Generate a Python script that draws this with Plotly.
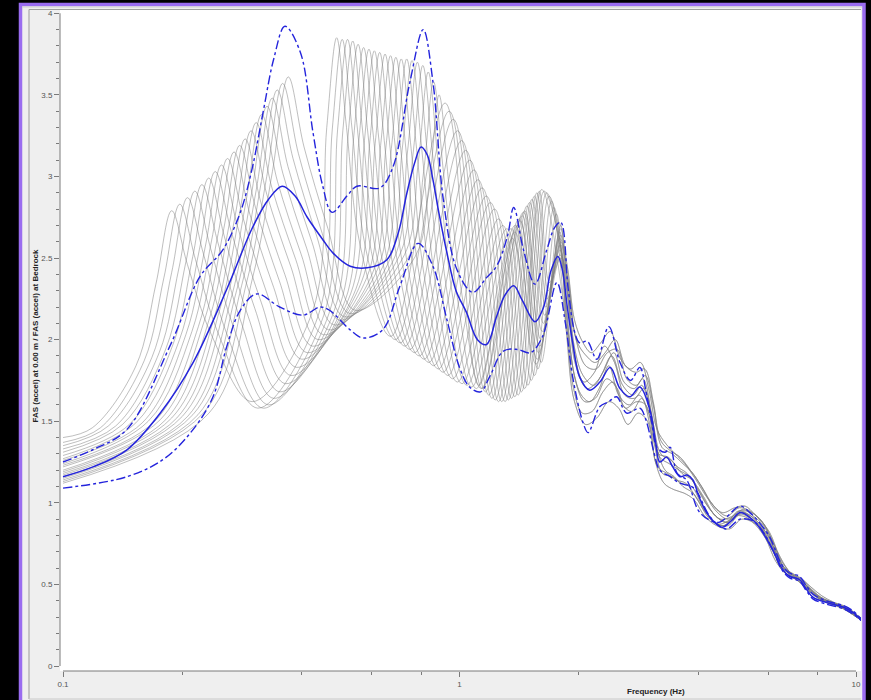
import plotly.graph_objects as go

# ---------------- Data ----------------
# Low-frequency part of each gray realization (frequency Hz, ratio)
r00_f = [0.1, 0.1186, 0.1528, 0.1715, 0.188, 0.2060, 0.2367, 0.300, 0.4268, 0.4626, 0.490, 0.5189, 0.5625, 0.671, 0.920, 1.119, 1.360, 1.560, 1.79]
r00_v = [1.40, 1.46, 1.84, 2.34, 2.79, 2.46, 2.03, 1.62, 2.18, 3.30, 3.85, 3.30, 2.57, 2.02, 3.45, 1.72, 2.62, 1.85, 2.62]
r01_f = [0.1, 0.1243, 0.1602, 0.1797, 0.197, 0.2159, 0.2480, 0.310, 0.4407, 0.4777, 0.506, 0.5359, 0.5809, 0.690, 0.942, 1.140, 1.379, 1.571, 1.79]
r01_v = [1.37, 1.46, 1.87, 2.38, 2.83, 2.49, 2.02, 1.58, 2.15, 3.29, 3.84, 3.29, 2.55, 2.00, 3.40, 1.70, 2.66, 1.88, 2.66]
r02_f = [0.1, 0.1300, 0.1675, 0.1879, 0.206, 0.2258, 0.2594, 0.320, 0.4547, 0.4928, 0.522, 0.5528, 0.5993, 0.710, 0.965, 1.162, 1.399, 1.582, 1.80]
r02_v = [1.35, 1.47, 1.89, 2.41, 2.87, 2.53, 2.03, 1.58, 2.15, 3.29, 3.84, 3.29, 2.54, 1.98, 3.35, 1.68, 2.70, 1.92, 2.70]
r03_f = [0.1, 0.1357, 0.1748, 0.1961, 0.215, 0.2356, 0.2707, 0.330, 0.4686, 0.5079, 0.538, 0.5697, 0.6176, 0.729, 0.989, 1.185, 1.419, 1.594, 1.79]
r03_v = [1.33, 1.47, 1.92, 2.44, 2.91, 2.56, 2.06, 1.60, 2.16, 3.28, 3.83, 3.28, 2.52, 1.96, 3.28, 1.66, 2.73, 1.96, 2.58]
r04_f = [0.1, 0.1413, 0.1821, 0.2043, 0.224, 0.2455, 0.2820, 0.340, 0.4834, 0.5239, 0.555, 0.5877, 0.6371, 0.750, 1.013, 1.207, 1.439, 1.605, 1.80]
r04_v = [1.31, 1.48, 1.95, 2.48, 2.95, 2.60, 2.10, 1.64, 2.18, 3.26, 3.81, 3.26, 2.50, 1.94, 3.22, 1.64, 2.76, 2.00, 2.68]
r05_f = [0.1, 0.1470, 0.1894, 0.2125, 0.233, 0.2554, 0.2933, 0.352, 0.4991, 0.5409, 0.573, 0.6068, 0.6578, 0.771, 1.037, 1.230, 1.460, 1.617, 1.79]
r05_v = [1.29, 1.48, 1.97, 2.51, 2.99, 2.63, 2.14, 1.68, 2.21, 3.24, 3.79, 3.24, 2.48, 1.92, 3.16, 1.63, 2.79, 2.05, 2.55]
r06_f = [0.1, 0.1527, 0.1967, 0.2207, 0.242, 0.2652, 0.3047, 0.364, 0.5148, 0.5579, 0.591, 0.6259, 0.6785, 0.792, 1.062, 1.254, 1.480, 1.628, 1.80]
r06_v = [1.27, 1.49, 2.00, 2.55, 3.03, 2.67, 2.19, 1.73, 2.24, 3.23, 3.78, 3.23, 2.46, 1.90, 3.10, 1.62, 2.82, 2.10, 2.64]
r07_f = [0.1, 0.1584, 0.2041, 0.2289, 0.251, 0.2751, 0.3160, 0.376, 0.5313, 0.5758, 0.610, 0.6460, 0.7003, 0.815, 1.088, 1.278, 1.502, 1.640, 1.79]
r07_v = [1.26, 1.49, 2.03, 2.58, 3.07, 2.70, 2.23, 1.78, 2.28, 3.22, 3.77, 3.22, 2.45, 1.88, 3.04, 1.62, 2.84, 2.15, 2.50]
r08_f = [0.1, 0.1641, 0.2114, 0.2371, 0.260, 0.2850, 0.3273, 0.388, 0.5479, 0.5938, 0.629, 0.6661, 0.7221, 0.837, 1.114, 1.303, 1.523, 1.651, 1.80]
r08_v = [1.24, 1.50, 2.05, 2.61, 3.11, 2.74, 2.28, 1.83, 2.31, 3.21, 3.76, 3.21, 2.43, 1.86, 2.98, 1.62, 2.86, 2.20, 2.60]
r09_f = [0.1, 0.1704, 0.2195, 0.2462, 0.270, 0.2959, 0.3399, 0.400, 0.5653, 0.6127, 0.649, 0.6873, 0.7451, 0.861, 1.141, 1.328, 1.545, 1.663, 1.79]
r09_v = [1.23, 1.50, 2.08, 2.65, 3.15, 2.77, 2.32, 1.88, 2.35, 3.20, 3.75, 3.20, 2.41, 1.84, 2.93, 1.63, 2.88, 2.25, 2.52]
r10_f = [0.1, 0.1760, 0.2268, 0.2544, 0.279, 0.3058, 0.3513, 0.413, 0.5836, 0.6325, 0.670, 0.7095, 0.7692, 0.885, 1.169, 1.353, 1.567, 1.675, 1.80]
r10_v = [1.22, 1.51, 2.11, 2.68, 3.19, 2.81, 2.36, 1.92, 2.38, 3.19, 3.74, 3.19, 2.40, 1.82, 2.88, 1.64, 2.90, 2.30, 2.58]
r11_f = [0.1, 0.1817, 0.2341, 0.2627, 0.288, 0.3156, 0.3626, 0.426, 0.6019, 0.6523, 0.691, 0.7318, 0.7933, 0.909, 1.197, 1.379, 1.589, 1.686, 1.80]
r11_v = [1.20, 1.51, 2.13, 2.71, 3.23, 2.84, 2.40, 1.96, 2.40, 3.18, 3.73, 3.18, 2.38, 1.80, 2.84, 1.65, 2.91, 2.35, 2.50]
r12_f = [0.1, 0.1880, 0.2423, 0.2718, 0.298, 0.3266, 0.3752, 0.440, 0.6210, 0.6731, 0.713, 0.7551, 0.8185, 0.935, 1.226, 1.406, 1.612]
r12_v = [1.19, 1.52, 2.16, 2.76, 3.28, 2.89, 2.45, 2.00, 2.43, 3.17, 3.72, 3.17, 2.36, 1.78, 2.80, 1.66, 2.92]
r13_f = [0.1, 0.1937, 0.2496, 0.2800, 0.307, 0.3365, 0.3865, 0.454, 0.6411, 0.6948, 0.736, 0.7794, 0.8449, 0.961, 1.256, 1.433, 1.635]
r13_v = [1.18, 1.52, 2.20, 2.80, 3.33, 2.93, 2.49, 2.03, 2.45, 3.17, 3.72, 3.17, 2.35, 1.76, 2.74, 1.68, 2.91]
r14_f = [0.1, 0.2000, 0.2577, 0.2891, 0.317, 0.3474, 0.3991, 0.468, 0.6611, 0.7165, 0.759, 0.8038, 0.8713, 0.988, 1.286, 1.460, 1.658]
r14_v = [1.17, 1.53, 2.23, 2.84, 3.38, 2.97, 2.52, 2.06, 2.47, 3.16, 3.71, 3.16, 2.33, 1.74, 2.70, 1.70, 2.90]
r15_f = [0.1, 0.2063, 0.2659, 0.2982, 0.327, 0.3584, 0.4117, 0.483, 0.6820, 0.7392, 0.783, 0.8292, 0.8989, 1.015, 1.317, 1.488, 1.682]
r15_v = [1.16, 1.53, 2.26, 2.88, 3.43, 3.02, 2.56, 2.09, 2.49, 3.15, 3.70, 3.15, 2.32, 1.73, 2.68, 1.72, 2.88]
r16_f = [0.1, 0.2126, 0.2740, 0.3073, 0.337, 0.3694, 0.4243, 0.498, 0.7038, 0.7628, 0.808, 0.8557, 0.9276, 1.044, 1.349, 1.517, 1.706]
r16_v = [1.15, 1.54, 2.30, 2.92, 3.48, 3.06, 2.60, 2.12, 2.51, 3.13, 3.68, 3.13, 2.31, 1.72, 2.68, 1.75, 2.85]
r17_f = [0.1, 0.2190, 0.2821, 0.3165, 0.347, 0.3803, 0.4369, 0.513, 0.7264, 0.7873, 0.834, 0.8832, 0.9574, 1.074, 1.382, 1.546, 1.730]
r17_v = [1.14, 1.54, 2.33, 2.97, 3.53, 3.11, 2.63, 2.14, 2.52, 3.09, 3.64, 3.09, 2.29, 1.71, 2.70, 1.78, 2.81]
r18_f = [0.1, 0.2259, 0.2911, 0.3265, 0.358, 0.3924, 0.4507, 0.529, 0.7491, 0.8118, 0.860, 0.9107, 0.9873, 1.103, 1.415, 1.576, 1.755]
r18_v = [1.13, 1.55, 2.36, 3.00, 3.57, 3.14, 2.65, 2.16, 2.52, 3.03, 3.58, 3.03, 2.26, 1.70, 2.74, 1.82, 2.77]
r19_f = [0.1, 0.2335, 0.3008, 0.3374, 0.370, 0.4055, 0.4658, 0.545, 0.7734, 0.8383, 0.888, 0.9404, 1.0194, 1.135, 1.450, 1.607, 1.780]
r19_v = [1.12, 1.55, 2.38, 3.03, 3.61, 3.18, 2.68, 2.18, 2.51, 2.95, 3.50, 2.95, 2.24, 1.70, 2.78, 1.86, 2.72]

# High-frequency parts of the gray realizations (ten observed variants)
tail_a_f = [1.87, 1.95, 2.05, 2.15, 2.27, 2.40, 2.55, 2.70, 2.86, 3.00, 3.15, 3.32, 3.50, 3.70, 3.95, 4.25, 4.60, 4.95, 5.25, 5.55, 5.85, 6.20, 6.60, 7.00, 7.40, 7.90, 8.50, 9.10, 9.70, 10.3]
tail_a_v = [2.45, 2.12, 1.98, 1.92, 1.98, 2.05, 1.88, 1.82, 1.86, 1.70, 1.45, 1.36, 1.30, 1.24, 1.14, 1.02, 0.94, 0.97, 0.98, 0.93, 0.87, 0.75, 0.60, 0.56, 0.51, 0.44, 0.40, 0.37, 0.34, 0.29]
tail_b_f = [1.87, 1.95, 2.05, 2.18, 2.30, 2.45, 2.60, 2.76, 2.90, 3.05, 3.20, 3.38, 3.58, 3.80, 4.05, 4.35, 4.70, 5.05, 5.35, 5.65, 6.00, 6.35, 6.80, 7.20, 7.60, 8.10, 8.70, 9.40, 10.3]
tail_b_v = [2.35, 1.95, 1.78, 1.72, 1.80, 1.92, 1.74, 1.70, 1.76, 1.55, 1.28, 1.24, 1.20, 1.16, 1.06, 0.94, 0.88, 0.95, 0.93, 0.88, 0.80, 0.67, 0.56, 0.53, 0.48, 0.42, 0.39, 0.36, 0.29]
tail_c_f = [1.86, 1.96, 2.07, 2.20, 2.35, 2.50, 2.62, 2.80, 2.95, 3.10, 3.25, 3.45, 3.62, 3.85, 4.10, 4.40, 4.75, 5.10, 5.45, 5.75, 6.10, 6.50, 6.90, 7.30, 7.70, 8.30, 8.90, 9.60, 10.3]
tail_c_v = [2.20, 1.75, 1.62, 1.64, 1.76, 1.70, 1.58, 1.62, 1.60, 1.36, 1.18, 1.16, 1.12, 1.10, 0.98, 0.88, 0.86, 0.93, 0.90, 0.85, 0.75, 0.61, 0.55, 0.52, 0.46, 0.40, 0.38, 0.34, 0.28]
tail_d_f = [1.86, 1.95, 2.08, 2.22, 2.38, 2.52, 2.66, 2.82, 2.98, 3.12, 3.28, 3.48, 3.68, 3.90, 4.15, 4.45, 4.80, 5.15, 5.50, 5.80, 6.15, 6.55, 6.95, 7.35, 7.80, 8.40, 9.00, 9.70, 10.3]
tail_d_v = [2.05, 1.62, 1.48, 1.52, 1.62, 1.58, 1.48, 1.55, 1.50, 1.25, 1.12, 1.08, 1.06, 1.02, 0.92, 0.86, 0.84, 0.90, 0.88, 0.83, 0.71, 0.58, 0.54, 0.50, 0.44, 0.39, 0.37, 0.33, 0.28]
tail_e_f = [1.87, 1.96, 2.10, 2.25, 2.42, 2.58, 2.74, 2.88, 3.02, 3.18, 3.36, 3.55, 3.75, 3.95, 4.25, 4.55, 4.90, 5.20, 5.50, 5.85, 6.20, 6.60, 7.00, 7.40, 7.90, 8.50, 9.20, 9.80, 10.3]
tail_e_v = [2.30, 1.85, 1.70, 1.76, 1.90, 1.72, 1.66, 1.72, 1.58, 1.30, 1.28, 1.22, 1.18, 1.10, 0.97, 0.90, 0.92, 0.96, 0.92, 0.86, 0.73, 0.59, 0.55, 0.50, 0.43, 0.39, 0.36, 0.32, 0.29]
tail_g_f = [1.87, 1.97, 2.09, 2.20, 2.33, 2.47, 2.62, 2.78, 2.93, 3.08, 3.22, 3.40, 3.60, 3.82, 4.08, 4.38, 4.72, 5.08, 5.40, 5.70, 6.05, 6.40, 6.85, 7.25, 7.65, 8.20, 8.80, 9.50, 10.3]
tail_g_v = [2.40, 2.00, 1.90, 1.86, 1.92, 2.00, 1.84, 1.80, 1.82, 1.62, 1.38, 1.32, 1.28, 1.20, 1.10, 0.98, 0.92, 0.97, 0.95, 0.90, 0.82, 0.68, 0.57, 0.54, 0.49, 0.43, 0.39, 0.36, 0.29]
tail_h_f = [1.86, 1.94, 2.04, 2.16, 2.30, 2.44, 2.58, 2.72, 2.88, 3.02, 3.16, 3.34, 3.52, 3.72, 3.98, 4.28, 4.62, 4.98, 5.30, 5.60, 5.92, 6.28, 6.70, 7.10, 7.50, 8.00, 8.60, 9.30, 10.3]
tail_h_v = [2.10, 1.70, 1.55, 1.56, 1.68, 1.74, 1.60, 1.56, 1.64, 1.48, 1.22, 1.18, 1.14, 1.12, 1.02, 0.90, 0.86, 0.92, 0.91, 0.86, 0.78, 0.64, 0.56, 0.53, 0.47, 0.42, 0.38, 0.35, 0.28]
tail_i_f = [1.87, 1.96, 2.06, 2.19, 2.32, 2.46, 2.61, 2.76, 2.92, 3.06, 3.22, 3.42, 3.64, 3.86, 4.12, 4.42, 4.78, 5.12, 5.42, 5.72, 6.08, 6.45, 6.88, 7.28, 7.68, 8.25, 8.85, 9.55, 10.3]
tail_i_v = [2.28, 1.88, 1.74, 1.80, 1.96, 1.86, 1.66, 1.64, 1.70, 1.52, 1.30, 1.26, 1.18, 1.14, 1.04, 0.92, 0.88, 0.94, 0.92, 0.87, 0.77, 0.63, 0.56, 0.52, 0.47, 0.41, 0.38, 0.35, 0.28]
tail_j_f = [1.86, 1.95, 2.03, 2.13, 2.25, 2.38, 2.52, 2.68, 2.84, 2.99, 3.14, 3.30, 3.48, 3.66, 3.88, 4.18, 4.50, 4.85, 5.18, 5.48, 5.80, 6.15, 6.55, 6.95, 7.35, 7.85, 8.45, 9.15, 10.3]
tail_j_v = [2.15, 1.78, 1.66, 1.62, 1.70, 1.84, 1.66, 1.60, 1.66, 1.56, 1.34, 1.20, 1.16, 1.10, 1.06, 0.94, 0.87, 0.90, 0.94, 0.90, 0.84, 0.72, 0.58, 0.54, 0.50, 0.43, 0.39, 0.36, 0.28]
tail_k_f = [1.87, 1.96, 2.08, 2.21, 2.36, 2.50, 2.64, 2.79, 2.94, 3.08, 3.24, 3.44, 3.66, 3.88, 4.12, 4.40, 4.75, 5.10, 5.45, 5.78, 6.12, 6.50, 6.92, 7.32, 7.72, 8.30, 8.95, 9.65, 10.3]
tail_k_v = [2.38, 2.02, 1.84, 1.82, 1.92, 1.94, 1.76, 1.72, 1.78, 1.60, 1.34, 1.30, 1.24, 1.18, 1.08, 0.96, 0.90, 0.95, 0.94, 0.89, 0.78, 0.64, 0.56, 0.53, 0.47, 0.41, 0.38, 0.34, 0.29]

# Median (solid blue)
median_f = [0.1, 0.119, 0.145, 0.176, 0.213, 0.259, 0.301, 0.33, 0.357, 0.385, 0.413, 0.45, 0.48, 0.53, 0.585,
            0.656, 0.70, 0.737, 0.77, 0.80, 0.83, 0.857, 0.89, 0.93, 0.98, 1.04, 1.11, 1.17, 1.24, 1.30,
            1.37, 1.44, 1.55, 1.63, 1.70, 1.77, 1.82, 1.87, 1.93, 2.01, 2.13, 2.26, 2.40, 2.54, 2.69,
            2.85, 3.02, 3.12, 3.20, 3.33, 3.45, 3.60, 3.75, 3.88, 4.00, 4.20, 4.40, 4.60, 4.85, 5.10,
            5.40, 5.70, 6.17, 6.50, 6.80, 7.20, 7.50, 7.80, 8.40, 9.30, 9.80, 10.3]
median_v = [1.16, 1.22, 1.325, 1.55, 1.86, 2.31, 2.69, 2.86, 2.94, 2.88, 2.75, 2.62, 2.53, 2.45, 2.44,
            2.49, 2.65, 2.90, 3.08, 3.18, 3.13, 2.98, 2.76, 2.53, 2.30, 2.17, 2.00, 1.97, 2.14, 2.27,
            2.33, 2.24, 2.11, 2.20, 2.42, 2.51, 2.42, 2.20, 1.98, 1.77, 1.69, 1.74, 1.83, 1.70, 1.65,
            1.71, 1.57, 1.38, 1.25, 1.28, 1.22, 1.16, 1.17, 1.14, 1.05, 0.94, 0.88, 0.85, 0.89, 0.94,
            0.91, 0.85, 0.71, 0.60, 0.55, 0.53, 0.47, 0.42, 0.39, 0.36, 0.33, 0.28]

# Median + 1 sigma (dash-dot blue)
upper_f = [0.1, 0.12, 0.145, 0.186, 0.222, 0.253, 0.28, 0.30, 0.32, 0.34, 0.363, 0.397, 0.427, 0.452, 0.477,
           0.52, 0.551, 0.63, 0.68, 0.75, 0.81, 0.857, 0.91, 0.985, 1.08, 1.17, 1.24, 1.32, 1.37, 1.45,
           1.55, 1.66, 1.74, 1.80, 1.88, 1.95, 2.01, 2.10, 2.22, 2.38, 2.54, 2.70, 2.85, 2.95, 3.05,
           3.15, 3.30, 3.40, 3.54, 3.74, 4.04, 4.50, 5.10, 5.40, 5.70, 6.06, 6.50, 6.80, 7.20, 7.50,
           7.80, 8.40, 9.30, 9.80, 10.3]
upper_v = [1.25, 1.33, 1.45, 1.96, 2.39, 2.55, 2.78, 3.05, 3.40, 3.72, 3.92, 3.76, 3.27, 2.94, 2.78,
           2.88, 2.94, 2.93, 3.06, 3.58, 3.90, 3.58, 2.86, 2.43, 2.29, 2.38, 2.45, 2.63, 2.81, 2.55,
           2.34, 2.55, 2.69, 2.72, 2.31, 2.05, 1.98, 1.99, 1.88, 2.08, 1.86, 1.75, 1.83, 1.69, 1.50,
           1.34, 1.31, 1.34, 1.18, 1.14, 0.94, 0.88, 0.98, 0.94, 0.88, 0.79, 0.62, 0.57, 0.55, 0.49,
           0.44, 0.40, 0.37, 0.34, 0.29]

# Median - 1 sigma (dash-dot blue)
lower_f = [0.1, 0.145, 0.18, 0.213, 0.239, 0.259, 0.28, 0.308, 0.352, 0.403, 0.445, 0.47, 0.53, 0.571, 0.64,
           0.708, 0.786, 0.857, 0.93, 1.0, 1.06, 1.13, 1.19, 1.29, 1.40, 1.51, 1.62, 1.76, 1.85, 1.93,
           2.05, 2.11, 2.26, 2.38, 2.49, 2.64, 2.85, 2.95, 3.10, 3.20, 3.40, 3.60, 3.90, 4.30, 4.70,
           5.10, 5.50, 5.80, 6.20, 6.50, 6.80, 7.20, 7.50, 7.80, 8.40, 9.30, 9.80, 10.3]
lower_v = [1.09, 1.16, 1.27, 1.45, 1.65, 1.96, 2.18, 2.28, 2.20, 2.15, 2.20, 2.18, 2.06, 2.01, 2.06,
           2.33, 2.59, 2.45, 2.12, 1.83, 1.71, 1.68, 1.77, 1.93, 1.94, 1.92, 2.02, 2.35, 2.10, 1.77,
           1.49, 1.43, 1.59, 1.62, 1.65, 1.55, 1.58, 1.51, 1.30, 1.20, 1.16, 1.12, 1.09, 0.91, 0.84,
           0.90, 0.89, 0.83, 0.70, 0.59, 0.54, 0.52, 0.46, 0.41, 0.38, 0.35, 0.32, 0.28]

x_tick_vals = [0.1, 1, 10]
x_tick_text = ["0.1", "1", "10"]
x_minor_vals = [0.2, 0.4, 0.6, 0.8, 2, 4, 6, 8]
y_tick_vals = [0, 0.5, 1, 1.5, 2, 2.5, 3, 3.5, 4]
y_tick_text = ["0", "0.5", "1", "1.5", "2", "2.5", "3", "3.5", "4"]
x_title = "Frequency (Hz)"
y_title = "FAS (accel) at 0.00 m / FAS (accel) at Bedrock"

# ---------------- Assemble realizations ----------------
tails = [(tail_a_f, tail_a_v), (tail_h_f, tail_h_v), (tail_c_f, tail_c_v), (tail_k_f, tail_k_v),
         (tail_e_f, tail_e_v), (tail_j_f, tail_j_v), (tail_b_f, tail_b_v), (tail_d_f, tail_d_v),
         (tail_g_f, tail_g_v), (tail_i_f, tail_i_v)]
lows = [(r00_f, r00_v), (r01_f, r01_v), (r02_f, r02_v), (r03_f, r03_v), (r04_f, r04_v),
        (r05_f, r05_v), (r06_f, r06_v), (r07_f, r07_v), (r08_f, r08_v), (r09_f, r09_v),
        (r10_f, r10_v), (r11_f, r11_v), (r12_f, r12_v), (r13_f, r13_v), (r14_f, r14_v),
        (r15_f, r15_v), (r16_f, r16_v), (r17_f, r17_v), (r18_f, r18_v), (r19_f, r19_v)]
tail_order = [0, 5, 2, 7, 4, 9, 6, 1, 8, 3, 3, 8, 1, 6, 9, 4, 7, 2, 5, 0]

fig = go.Figure()
for i, (lf, lv) in enumerate(lows):
    tf, tv = tails[tail_order[i]]
    fig.add_trace(go.Scatter(
        x=lf + tf, y=lv + tv, mode="lines",
        line=dict(color="rgba(125,125,125,0.5)", width=1, shape="spline", smoothing=1.0),
        hoverinfo="skip", showlegend=False))

blue = "#2424dc"
fig.add_trace(go.Scatter(x=median_f, y=median_v, mode="lines",
                         line=dict(color=blue, width=1.5, shape="spline", smoothing=1.0),
                         showlegend=False))
fig.add_trace(go.Scatter(x=upper_f, y=upper_v, mode="lines",
                         line=dict(color=blue, width=1.4, dash="dashdot", shape="spline", smoothing=1.0),
                         showlegend=False))
fig.add_trace(go.Scatter(x=lower_f, y=lower_v, mode="lines",
                         line=dict(color=blue, width=1.4, dash="dashdot", shape="spline", smoothing=1.0),
                         showlegend=False))

# ---------------- Layout ----------------
W, H = 871, 700
L, R, T, B = 60, 10, 10, 29
pw, ph = W - L - R, H - T - B


def px(xp):
    return (xp - L) / pw


def py(yp):
    return (H - B - yp) / ph


tick_font = dict(family="Liberation Sans, Arial, sans-serif", size=8, color="#555555")

shapes = [
    # light-gray panel with purple frame
    dict(type="rect", xref="paper", yref="paper", x0=px(20.5), x1=px(864), y0=py(705), y1=py(4.5),
         fillcolor="#efefef", line=dict(color="#9a6cf0", width=3.5), layer="below"),
    # white plotting area
    dict(type="rect", xref="paper", yref="paper", x0=0, x1=1, y0=0, y1=1,
         fillcolor="white", line=dict(width=0), layer="below"),
    # inner gray frame lines
    dict(type="line", xref="paper", yref="paper", x0=px(29), x1=px(29), y0=py(699), y1=py(9.5),
         line=dict(color="#a8a8a8", width=1.2), layer="below"),
    dict(type="line", xref="paper", yref="paper", x0=px(29), x1=px(861), y0=py(9.5), y1=py(9.5),
         line=dict(color="#a0a0a0", width=1.2), layer="below"),
    dict(type="line", xref="paper", yref="paper", x0=px(22), x1=px(862), y0=py(7), y1=py(7),
         line=dict(color="#cfcfcf", width=1), layer="below"),
    dict(type="line", xref="paper", yref="paper", x0=px(29), x1=px(861), y0=py(699), y1=py(699),
         line=dict(color="#c8c8c8", width=1), layer="below"),
    # axis lines (limited to the data range)
    dict(type="line", xref="paper", yref="y", x0=0, x1=0, y0=0, y1=4,
         line=dict(color="#7a7a7a", width=1)),
    dict(type="line", xref="paper", yref="paper", x0=px(63), x1=px(856), y0=0, y1=0,
         line=dict(color="#7a7a7a", width=1)),
]

annotations = [
    dict(text="<b>" + x_title + "</b>", xref="paper", yref="paper", x=px(656), y=py(691),
         xanchor="center", yanchor="middle", showarrow=False,
         font=dict(family="Liberation Sans, Arial, sans-serif", size=8, color="#222222")),
    dict(text="<b>" + y_title + "</b>", xref="paper", yref="paper", x=px(34.5), y=py(336),
         xanchor="center", yanchor="middle", textangle=-90, showarrow=False,
         font=dict(family="Liberation Sans, Arial, sans-serif", size=8, color="#222222")),
]

fig.update_layout(
    width=W, height=H,
    margin=dict(l=L, r=R, t=T, b=B, pad=0),
    paper_bgcolor="black",
    plot_bgcolor="rgba(0,0,0,0)",
    showlegend=False,
    shapes=shapes,
    annotations=annotations,
    xaxis=dict(
        type="log", range=[-1.00757, 1.01261],
        tickmode="array", tickvals=x_tick_vals, ticktext=x_tick_text,
        ticks="outside", ticklen=5, tickcolor="#7a7a7a", tickwidth=1,
        tickfont=tick_font, showgrid=False, zeroline=False, showline=False,
        minor=dict(tickmode="array", tickvals=x_minor_vals, ticks="outside", ticklen=3,
                   tickcolor="#7a7a7a", showgrid=False),
    ),
    yaxis=dict(
        range=[-0.0306, 4.020],
        tickmode="array", tickvals=y_tick_vals, ticktext=y_tick_text,
        ticks="outside", ticklen=5, tickcolor="#7a7a7a", tickwidth=1,
        tickfont=tick_font, showgrid=False, zeroline=False, showline=False,
        minor=dict(dtick=0.1, tick0=0, ticks="outside", ticklen=3, tickcolor="#7a7a7a", showgrid=False),
    ),
)

fig.write_html(
    "out.html",
    config={"displayModeBar": False},
    post_script="document.body.style.margin='0px';document.body.style.padding='0px';"
                "document.body.style.background='black';document.body.style.overflow='hidden';",
)
